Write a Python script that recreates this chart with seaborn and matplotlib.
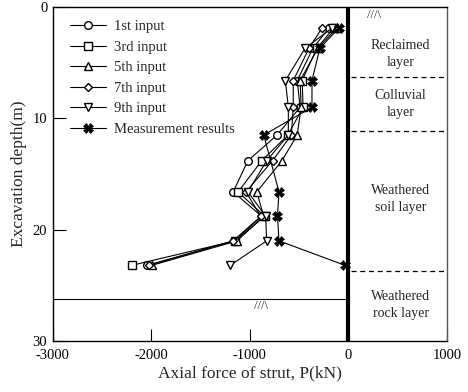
import matplotlib
matplotlib.use("Agg")
import matplotlib.pyplot as plt
import seaborn as sns
import pandas as pd

# ---- data ----
depth = [1.9, 3.7, 6.6, 9.0, 11.5, 13.8, 16.6, 18.8, 21.0, 23.2]
depth_meas = [1.9, 3.7, 6.6, 9.0, 11.5, 16.6, 18.8, 21.0, 23.2]
input_1 = [-200, -360, -520, -490, -725, -1020, -1170, -880, -1160, -2045]
input_3 = [-150, -320, -470, -460, -615, -880, -1120, -850, -1150, -2200]
input_5 = [-120, -310, -490, -480, -520, -675, -930, -860, -1130, -1995]
input_7 = [-270, -400, -560, -560, -580, -770, -1040, -890, -1170, -2020]
input_9 = [-170, -440, -640, -610, -610, -830, -1020, -840, -830, -1200]
measured = [-100, -290, -370, -370, -860, -705, -720, -705, -35]
series_names = ["1st input", "3rd input", "5th input", "7th input", "9th input"]
layer_names = ["Reclaimed\nlayer", "Colluvial\nlayer", "Weathered\nsoil layer", "Weathered\nrock layer"]
layer_bounds = [6.3, 11.1, 23.7]
layer_text_depth = [4.2, 8.7, 17.2, 26.8]
x_ticks = [-3000, -2000, -1000, 0, 1000]
y_ticks = [0, 10, 20, 30]

sns.set_theme(style="white")
plt.rcParams["font.family"] = ["Liberation Serif", "DejaVu Serif"]
plt.rcParams["axes.unicode_minus"] = False

fig = plt.figure(figsize=(4.68, 3.92), dpi=100)
ax = fig.add_axes([0.113, 0.130, 0.842, 0.852])

markers = ["o", "s", "^", "D", "v"]
msizes = [5.5, 5.5, 5.5, 4.5, 5.5]
for name, vals, mk, ms in zip(series_names, [input_1, input_3, input_5, input_7, input_9], markers, msizes):
    df = pd.DataFrame({"P": vals, "depth": depth})
    sns.lineplot(data=df, x="P", y="depth", sort=False, estimator=None, ax=ax,
                 color="black", lw=0.8, marker=mk, ms=ms, mfc="white", mec="black",
                 mew=1.0, label=name)
dfm = pd.DataFrame({"P": measured, "depth": depth_meas})
sns.lineplot(data=dfm, x="P", y="depth", sort=False, estimator=None, ax=ax,
             color="black", lw=0.8, marker="X", ms=6.5, mfc="black", mec="black",
             mew=0.5, label="Measurement results")

ax.set_xlim(-3000, 1000)
ax.set_ylim(30, 0)
ax.set_xticks(x_ticks)
ax.set_yticks(y_ticks)
ax.tick_params(direction="in", length=9, width=0.8, colors="black", labelsize=10.5,
               bottom=True, left=True)
ax.tick_params(axis="x", pad=6)
ax.tick_params(axis="y", pad=4)
for s in ax.spines.values():
    s.set_color("black")
    s.set_linewidth(1.0)
ax.spines["right"].set_color("#555555")

# wall line at zero
ax.axvline(0, color="black", lw=3, zorder=5)
# rock line
ax.plot([-3000, 0], [26.2, 26.2], color="black", lw=0.8)
# layer boundaries
for b in layer_bounds:
    ax.plot([30, 1000], [b, b], color="black", lw=0.9, ls=(0, (4, 3)))
for t, d in zip(layer_names, layer_text_depth):
    ax.text(530, d, t, ha="center", va="center", fontsize=10, linespacing=1.4)
# ground symbols
ax.text(260, 0.2, "///\\", fontsize=9, ha="center", va="top")
ax.text(-890, 26.35, "///\\", fontsize=9, ha="center", va="top")

ax.set_xlabel("Axial force of strut, P(kN)", fontsize=12.5, labelpad=2)
ax.set_ylabel("Excavation depth(m)", fontsize=12.5, labelpad=4)

leg = ax.legend(loc="upper left", bbox_to_anchor=(0.01, 1.0), frameon=False,
                fontsize=10.5, handlelength=2.5, handletextpad=0.5,
                labelspacing=0.5, borderaxespad=0.5)

fig.savefig("out.png", dpi=100)
